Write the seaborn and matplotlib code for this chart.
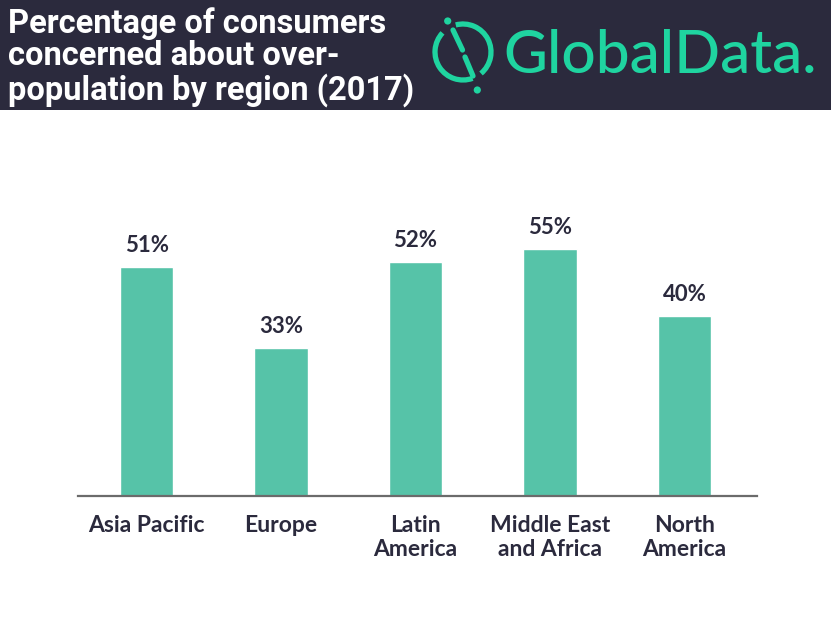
import matplotlib
matplotlib.use("Agg")
import matplotlib.pyplot as plt
import seaborn as sns
import pandas as pd
from matplotlib.patches import Rectangle, Arc, Circle

# data
regions = ["Asia Pacific", "Europe", "Latin\nAmerica", "Middle East\nand Africa", "North\nAmerica"]
concerned_pct = [51, 33, 52, 55, 40]
title_lines = "Percentage of consumers\nconcerned about over-\npopulation by region (2017)"

bar_color = "#56c3a8"
dark = "#2b2a3d"
green = "#1fd4a0"

sns.set_theme(style="white")
plt.rcParams["font.family"] = ["Lato", "DejaVu Sans"]

W, H = 831, 624
fig = plt.figure(figsize=(W / 100, H / 100), dpi=100)
fig.patch.set_facecolor("white")

# overlay in pixel coords (y up) for header + logo
bg = fig.add_axes([0, 0, 1, 1])
bg.set_xlim(0, W)
bg.set_ylim(0, H)
bg.axis("off")

def py(y):
    return H - y

bg.add_patch(Rectangle((0, py(110)), W, 110, color=dark, lw=0))
bg.text(8, py(57), title_lines, color="white", fontsize=23.5, fontweight="bold",
        va="center", ha="left", linespacing=1.02, family=["Roboto", "DejaVu Sans"])

# logo mark
cx, cy, r = 463, py(52), 28
lw_logo = 3.8
bg.add_patch(Arc((cx, cy), 2 * r, 2 * r, theta1=-50, theta2=105, color=green, lw=lw_logo))
bg.add_patch(Arc((cx, cy), 2 * r, 2 * r, theta1=137, theta2=290, color=green, lw=lw_logo))
bg.plot([453, 462.5], [py(30), py(50)], color=green, lw=lw_logo, solid_capstyle="round")
bg.plot([465, 473], [py(57), py(76)], color=green, lw=lw_logo, solid_capstyle="round")
bg.add_patch(Circle((447.7, py(21)), 3.6, color=green, lw=0))
bg.add_patch(Circle((477.3, py(90)), 3.6, color=green, lw=0))
bg.text(503, py(56), "GlobalData.", color=green, fontsize=43.5, fontweight="medium",
        va="center", ha="left", family=["Lato", "DejaVu Sans"])

# bar chart
df = pd.DataFrame({"region": regions, "pct": concerned_pct})
ax = fig.add_axes([78 / W, (H - 496) / H, (757 - 78) / W, (496 - 130) / H])
ax.patch.set_alpha(0)
sns.barplot(data=df, x="region", y="pct", color=bar_color, width=0.4,
            saturation=1, ax=ax)
ax.set_xlim(-0.51, 4.54)
ax.set_ylim(0, 81.5)
for c in ax.containers:
    ax.bar_label(c, labels=[f"{v}%" for v in concerned_pct], padding=8,
                 fontsize=16, fontweight="bold", color=dark)

sns.despine(ax=ax, left=True, top=True, right=True)
ax.spines["bottom"].set_color("#6b6b6b")
ax.spines["bottom"].set_linewidth(1.6)
ax.set_yticks([])
ax.set_xlabel("")
ax.set_ylabel("")
ax.tick_params(axis="x", length=0, pad=14)
for t in ax.get_xticklabels():
    t.set_fontsize(16.5)
    t.set_fontweight("bold")
    t.set_color(dark)
    t.set_linespacing(1.15)

fig.savefig("out.png", dpi=100)
